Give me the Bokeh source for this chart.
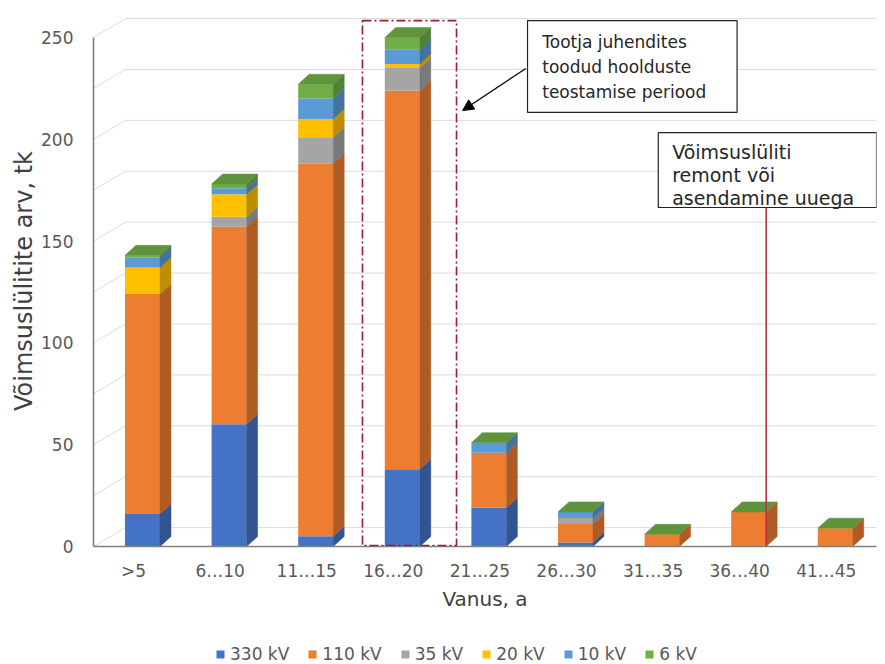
import numpy as np
from bokeh.plotting import figure
from bokeh.layouts import column
from bokeh.models import (Range1d, FixedTicker, Legend, LegendItem, Label,
                          BoxAnnotation, Arrow, NormalHead, ColumnDataSource)
from bokeh.embed import file_html
from bokeh.resources import INLINE

# ---------------- data ----------------
categories = [">5", "6…10", "11…15", "16…20", "21…25", "26…30", "31…35", "36…40", "41…45"]
kv330 = [16, 60, 5, 38, 19, 2, 0, 0, 0]
kv110 = [108, 97, 183, 186, 27, 9, 6, 17, 9]
kv35 = [0, 5, 13, 11, 0, 3, 0, 0, 0]
kv20 = [13, 11, 9, 2, 0, 0, 0, 0, 0]
kv10 = [5, 3, 10, 7, 5, 3, 0, 0, 0]
kv6 = [1, 2, 7, 6, 0, 0, 0, 0, 0]
series_names = ["330 kV", "110 kV", "35 kV", "20 kV", "10 kV", "6 kV"]
series_values = [kv330, kv110, kv35, kv20, kv10, kv6]
series_colors = ["#4472C4", "#ED7D31", "#A5A5A5", "#FFC000", "#5B9BD5", "#70AD47"]
y_ticks = [0, 50, 100, 150, 200, 250]
grid_values = list(range(0, 251, 25))
x_title = "Vanus, a"
y_title = "Võimsuslülitite arv, tk"
note_period = "Tootja juhendites\ntoodud hoolduste\nteostamise periood"
note_repair = "Võimsuslüliti\nremont või\nasendamine uuega"

# ---------------- style ----------------
FONT = "DejaVu Sans"
TICK_COLOR = "#595959"
TITLE_COLOR = "#404040"
FRONT_SHIFT = 0.104
BAR_W = 0.404
DX = 0.127      # 3D depth (x, category units)
DY = 4.9        # 3D depth (y, value units)
WALL_DX = 0.37
WALL_DY = 9.3
X_START, X_END = -0.462, 8.58
Y_END = 260.8
MAIN_H, LEG_H = 634, 30


def shade(hex_color, f):
    h = hex_color.lstrip("#")
    r, g, b = (int(h[i:i + 2], 16) for i in (0, 2, 4))
    return "#%02x%02x%02x" % (int(r * f), int(g * f), int(b * f))


p = figure(width=885, height=MAIN_H, output_backend="svg", toolbar_location=None,
           x_range=Range1d(X_START, X_END), y_range=Range1d(0, Y_END),
           min_border_left=93, min_border_right=9, min_border_top=15,
           min_border_bottom=MAIN_H - 546)
p.outline_line_color = None
p.xgrid.visible = False
p.ygrid.visible = False
p.background_fill_color = "white"

# back-wall gridlines (3D look)
gx0, gy0, gx1, gy1 = [], [], [], []
for v in grid_values:
    gx0 += [X_START, X_START + WALL_DX]
    gy0 += [v, v + WALL_DY]
    gx1 += [X_START + WALL_DX, X_END]
    gy1 += [v + WALL_DY, v + WALL_DY]
p.segment(x0=gx0, y0=gy0, x1=gx1, y1=gy1, line_color="#dcdcdc", line_width=1)

# bars
n = len(categories)
xc = np.arange(n) + FRONT_SHIFT
xl = xc - BAR_W / 2
xr = xc + BAR_W / 2
bottom = np.zeros(n)
for name, vals, col in zip(series_names, series_values, series_colors):
    vals = np.array(vals, dtype=float)
    top = bottom + vals
    src = ColumnDataSource(dict(left=xl, right=xr, bottom=bottom, top=top))
    p.quad(left="left", right="right", bottom="bottom", top="top", source=src,
           fill_color=col, line_color=None)
    xs, ys = [], []
    for a, b, t, v in zip(xr, bottom, top, vals):
        if v > 0:
            xs.append([a, a + DX, a + DX, a])
            ys.append([b, b + DY, t + DY, t])
    if xs:
        sc = shade(col, 0.74)
        p.patches(xs=xs, ys=ys, fill_color=sc, line_color=sc, line_width=0.5)
    bottom = top

top_col = shade(series_colors[-1], 0.85)
p.patches(xs=[[a, a + DX, b + DX, b] for a, b in zip(xl, xr)],
          ys=[[T, T + DY, T + DY, T] for T in bottom],
          fill_color=top_col, line_color=top_col, line_width=0.5)

# axes
p.xaxis.ticker = FixedTicker(ticks=list(range(n)))
p.xaxis.major_label_overrides = {i: c for i, c in enumerate(categories)}
p.yaxis.ticker = FixedTicker(ticks=y_ticks)
p.yaxis.bounds = (0, 250)
for ax in (p.xaxis[0], p.yaxis[0]):
    ax.major_tick_line_color = None
    ax.minor_tick_line_color = None
    ax.axis_line_color = "#7f7f7f"
    ax.axis_line_width = 1.6
    ax.major_label_text_font = FONT
    ax.major_label_text_font_size = "17px"
    ax.major_label_text_color = TICK_COLOR
    ax.axis_label_text_font = FONT
    ax.axis_label_text_font_style = "normal"
    ax.axis_label_text_color = TITLE_COLOR
p.xaxis.axis_label = x_title
p.xaxis.axis_label_text_font_size = "20px"
p.xaxis.major_label_standoff = 8
p.xaxis.axis_label_standoff = 3
p.yaxis.axis_label = y_title
p.yaxis.axis_label_text_font_size = "24px"
p.yaxis.major_label_standoff = 14
p.yaxis.axis_label_standoff = 0

# annotations
hi = 3
p.add_layout(BoxAnnotation(left=hi - 0.356, right=hi + 0.73, bottom=0.5, top=258.3,
                           fill_color=None, line_color="#9e1c2c", line_alpha=1, line_width=1.6,
                           line_dash="9 3 2 3"))

p.add_layout(BoxAnnotation(left=4.55, right=6.97, bottom=213.2, top=258.3,
                           fill_color="white", fill_alpha=1, line_color="#222222",
                           line_alpha=1, line_width=1.2))
p.add_layout(Label(x=4.72, y=252.9, text=note_period, text_font=FONT, text_font_size="17px",
                   text_color="#262626", text_baseline="top", text_align="left",
                   text_line_height=1.27))
p.add_layout(Arrow(end=NormalHead(size=11, fill_color="black", line_color="black"),
                   x_start=4.53, y_start=234.8, x_end=3.80, y_end=214.1,
                   line_color="black", line_width=1.3))

repair_idx = 7
line_x = repair_idx + FRONT_SHIFT + BAR_W / 2
p.add_layout(Arrow(end=None, x_start=line_x, y_start=0, x_end=line_x, y_end=166.5,
                   line_color="#c0304a", line_width=1.6))
p.add_layout(BoxAnnotation(left=6.06, right=X_END, bottom=166.5, top=203.3,
                           fill_color="white", fill_alpha=1, line_color="#222222",
                           line_alpha=1, line_width=1.2))
p.add_layout(Label(x=6.22, y=199.4, text=note_repair, text_font=FONT, text_font_size="19px",
                   text_color="#262626", text_baseline="top", text_align="left",
                   text_line_height=1.06))

# ---------------- legend strip ----------------
lg = figure(width=885, height=LEG_H, output_backend="svg", toolbar_location=None,
            x_range=Range1d(0, 1), y_range=Range1d(0, 1),
            x_axis_location=None, y_axis_location=None,
            min_border_left=0, min_border_right=0, min_border_top=0, min_border_bottom=0)
lg.outline_line_color = None
lg.xgrid.visible = False
lg.ygrid.visible = False
items = []
for nm, col in zip(series_names, series_colors):
    # legend proxy: a single swatch kept outside the visible range of the strip
    r = lg.quad(left=[-3], right=[-2], bottom=[-3], top=[-2], fill_color=col, line_color=None)
    items.append(LegendItem(label=nm, renderers=[r]))
legend = Legend(items=items, location=(122, 0), orientation="horizontal",
                glyph_width=10, glyph_height=10, label_standoff=5, spacing=18,
                padding=0, margin=0, label_height=18,
                label_text_font=FONT, label_text_font_size="17px", label_text_color=TICK_COLOR,
                border_line_color=None, background_fill_alpha=0)
lg.add_layout(legend)

layout = column(p, lg, spacing=0)
open("out.html", "w").write(file_html(layout, INLINE))
